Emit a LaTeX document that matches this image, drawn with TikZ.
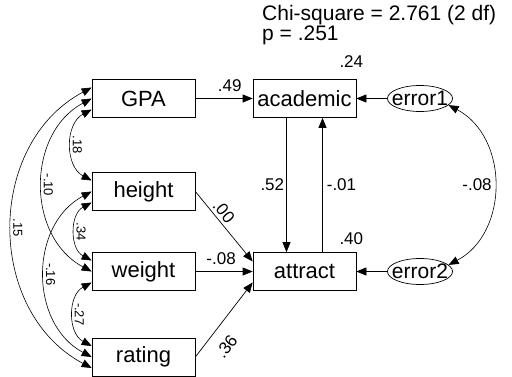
\documentclass[tikz,border=0pt]{standalone}
\usepackage{fontspec}
\setmainfont{Liberation Sans}
\usetikzlibrary{arrows.meta,shapes.geometric}

\tikzset{
  var/.style={draw, line width=0.7pt, minimum width=103pt, minimum height=38pt, inner sep=0pt, font=\fontsize{22}{22}\selectfont},
  err/.style={draw, ellipse, line width=0.7pt, minimum height=26pt, inner xsep=-5pt, inner ysep=0pt, font=\fontsize{21}{21}\selectfont},
  effect/.style={->, line width=0.7pt},
  cov/.style={<->, line width=0.6pt, looseness=1.1},
  coef/.style={inner sep=0pt, font=\fontsize{17}{17}\selectfont},
  covlab/.style={inner sep=1pt, font=\fontsize{13}{13}\selectfont, rotate=-90, anchor=south}
}

\begin{document}
\begin{tikzpicture}[x=1pt, y=1pt, >={Triangle[length=10pt,width=8pt]}]
\useasboundingbox (0,0) rectangle (512,-376);
\node[var] (GPA) at (143.5,-98.5) {GPA};
\node[var] (height) at (143.5,-191.5) {height};
\node[var] (weight) at (143.5,-271.5) {weight};
\node[var] (rating) at (143.5,-357) {rating};
\node[var] (academic) at (304.5,-98.5) {academic};
\node[var] (attract) at (304.5,-271.5) {attract};
\node[err] (error1) at (420,-98.5) {error1};
\node[err] (error2) at (420,-271.5) {error2};
\node[anchor=base west, align=left, inner sep=0pt, font=\fontsize{21}{19.5}\selectfont] (fit) at (262,-40.2) {Chi-square = 2.761 (2 df)\\p = .251};
\node[coef, anchor=south east] (r2acad) at ([shift={(7,11)}]academic.north east) {.24};
\node[coef, anchor=south east] (r2attr) at ([shift={(7,7)}]attract.north east) {.40};

\draw[effect] (GPA) -- node[coef, pos=0.6, above=6pt] {.49} (academic);
\draw[effect] ([xshift=-18pt]academic.south) -- node[coef, left=2pt] {.52} ([xshift=-18pt]attract.north);
\draw[effect] ([xshift=18pt]attract.north) -- node[coef, right=4pt] {-.01} ([xshift=18pt]academic.south);
\draw[effect] (error1) -- (academic);
\draw[effect] (error2) -- (attract);
\draw[effect] (height.east) -- node[coef, sloped, pos=0.37, anchor=south, inner sep=3pt] {.00} ([yshift=10pt]attract.west);
\draw[effect] (weight) -- node[coef, pos=0.45, above=6.5pt] {-.08} (attract);
\draw[effect] (rating.east) -- node[coef, sloped, pos=0.29, anchor=north, inner sep=12pt] {.36} ([yshift=-11pt]attract.west);

\foreach \a/\sa/\b/\sb/\v in {GPA/-11/height/11/.18, GPA/0/weight/0/-.10, GPA/11/rating/-11/.15, height/-11/weight/11/.34, height/0/rating/0/-.16, weight/-11/rating/11/-.27}
  \draw[cov] ([yshift=\sa pt]\a.west) to[bend right=62] node[covlab] {\v} ([yshift=\sb pt]\b.west);
\draw[cov] (error1.-13) to[bend left=62] node[coef, anchor=east, inner sep=2pt] {-.08} (error2.13);
\end{tikzpicture}
\end{document}
